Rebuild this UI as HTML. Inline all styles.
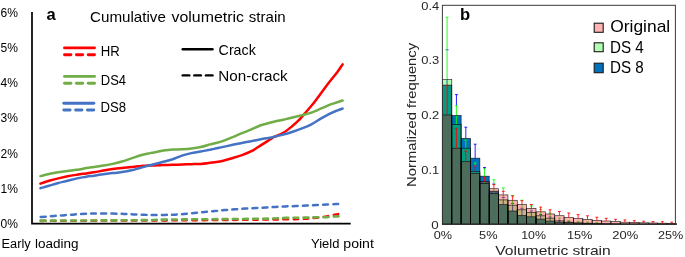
<!DOCTYPE html>
<html><head><meta charset="utf-8"><title>Figure</title>
<style>
html,body{margin:0;padding:0;background:#fff;}
svg{display:block;will-change:transform;}
text{font-family:"Liberation Sans",sans-serif;fill:#000;}
#panelB text{fill:#262626;}
</style></head><body>
<svg width="685" height="257" viewBox="0 0 685 257">
<rect x="0" y="0" width="685" height="257" fill="#fff"/>

<g id="panelA">
<path d="M32.0 11.9 V223.55 H350.7" fill="none" stroke="#000" stroke-width="1.7" stroke-linejoin="miter"/>
<text x="0.6" y="16.7" font-size="12.1" textLength="17.4" lengthAdjust="spacingAndGlyphs">6%</text>
<text x="0.6" y="51.9" font-size="12.1" textLength="17.4" lengthAdjust="spacingAndGlyphs">5%</text>
<text x="0.6" y="87.1" font-size="12.1" textLength="17.4" lengthAdjust="spacingAndGlyphs">4%</text>
<text x="0.6" y="122.3" font-size="12.1" textLength="17.4" lengthAdjust="spacingAndGlyphs">3%</text>
<text x="0.6" y="157.5" font-size="12.1" textLength="17.4" lengthAdjust="spacingAndGlyphs">2%</text>
<text x="0.6" y="192.7" font-size="12.1" textLength="17.4" lengthAdjust="spacingAndGlyphs">1%</text>
<text x="0.6" y="227.9" font-size="12.1" textLength="17.4" lengthAdjust="spacingAndGlyphs">0%</text>
<path d="M39.5 221.0 C50.4 220.9 81.6 220.8 105.0 220.7 C128.4 220.6 155.0 220.6 180.0 220.4 C205.0 220.2 237.3 220.0 255.0 219.8 C272.7 219.6 277.4 219.6 286.0 219.4 C294.6 219.2 301.3 219.1 306.4 218.8 C311.5 218.5 313.1 218.2 316.5 217.8 C319.9 217.4 323.4 216.9 326.7 216.3 C329.9 215.7 333.4 214.9 336.0 214.4 C338.6 213.9 341.5 213.6 342.6 213.4" fill="none" stroke="#FF0000" stroke-width="2.3" stroke-linecap="round" stroke-linejoin="round" stroke-dasharray="4.7 5.4" stroke-dashoffset="-1.4"/>
<path d="M39.5 220.6 C50.4 220.6 86.6 220.5 105.0 220.4 C123.4 220.3 140.0 220.2 150.0 220.1 C160.0 220.0 147.5 219.8 165.0 219.6 C182.5 219.3 234.8 219.1 255.0 218.8 C275.2 218.6 277.4 218.2 286.0 217.9 C294.6 217.7 301.3 217.7 306.4 217.6 C311.5 217.5 313.1 217.4 316.5 217.3 C319.9 217.3 323.4 217.2 326.7 217.1 C329.9 216.9 333.4 216.6 336.0 216.4 C338.6 216.3 341.5 216.1 342.6 216.1" fill="none" stroke="#70AD47" stroke-width="2.6" stroke-linecap="round" stroke-linejoin="round" stroke-dasharray="4.9 5.2" stroke-dashoffset="-1.3"/>
<path d="M39.5 217.1 C41.2 217.0 46.2 216.6 49.6 216.3 C53.0 216.0 56.3 215.8 59.7 215.5 C63.1 215.2 66.4 215.1 69.8 214.8 C73.2 214.6 76.5 214.2 79.9 214.0 C83.3 213.8 86.7 213.7 90.0 213.6 C93.3 213.5 96.2 213.6 100.0 213.6 C103.8 213.6 109.0 213.5 113.0 213.6 C117.0 213.7 120.6 213.8 124.0 213.9 C127.4 214.0 130.2 214.2 133.6 214.4 C137.0 214.6 141.1 214.7 144.5 214.8 C147.9 214.9 150.6 215.1 154.0 215.1 C157.4 215.1 161.6 215.0 165.0 214.9 C168.4 214.8 171.3 214.8 174.5 214.7 C177.7 214.5 180.7 214.3 184.0 214.0 C187.3 213.7 190.9 213.3 194.3 213.0 C197.7 212.7 201.1 212.3 204.5 212.0 C207.9 211.7 211.3 211.4 214.7 211.1 C218.1 210.8 221.6 210.4 225.0 210.1 C228.4 209.8 231.6 209.6 235.0 209.3 C238.4 209.1 242.0 208.8 245.4 208.6 C248.8 208.4 252.2 208.2 255.6 208.0 C259.0 207.8 262.5 207.7 265.9 207.5 C269.3 207.3 272.6 207.1 276.0 206.9 C279.4 206.7 282.7 206.6 286.0 206.4 C289.3 206.2 292.6 206.2 296.0 206.0 C299.4 205.8 303.0 205.7 306.4 205.5 C309.8 205.3 313.1 205.2 316.5 205.0 C319.9 204.8 323.4 204.8 326.7 204.6 C329.9 204.4 333.4 204.2 336.0 204.0 C338.6 203.8 341.5 203.8 342.6 203.7" fill="none" stroke="#4472C4" stroke-width="2.5" stroke-linecap="round" stroke-linejoin="round" stroke-dasharray="4.9 5.2" stroke-dashoffset="-1.3"/>
<path d="M40.4 183.6 C41.8 183.1 46.0 181.7 49.0 180.8 C52.0 179.9 55.2 179.1 58.3 178.4 C61.4 177.7 64.5 177.0 67.6 176.3 C70.7 175.7 73.9 175.2 77.0 174.7 C80.1 174.2 83.5 173.8 86.3 173.4 C89.1 173.0 91.2 172.8 94.0 172.3 C96.8 171.8 100.2 171.1 103.3 170.5 C106.4 169.9 109.6 169.4 112.7 169.0 C115.8 168.6 118.9 168.3 122.0 168.0 C125.1 167.7 128.3 167.3 131.4 167.0 C134.5 166.7 137.6 166.3 140.7 166.1 C143.8 165.8 147.8 165.6 150.0 165.5 C152.2 165.4 151.8 165.5 154.0 165.4 C156.2 165.3 160.2 165.2 163.3 165.1 C166.4 165.0 169.6 164.9 172.7 164.8 C175.8 164.7 178.9 164.6 182.0 164.5 C185.1 164.4 188.3 164.3 191.4 164.2 C194.5 164.1 197.6 164.1 200.7 163.9 C203.8 163.7 207.8 163.1 210.0 162.8 C212.2 162.5 211.8 162.6 214.0 162.3 C216.2 162.0 220.2 161.5 223.3 160.8 C226.4 160.1 229.6 158.9 232.7 158.0 C235.8 157.1 238.9 156.2 242.0 155.1 C245.1 154.0 248.3 152.8 251.4 151.2 C254.5 149.6 257.6 147.3 260.7 145.4 C263.8 143.5 267.8 140.9 270.0 139.5 C272.2 138.1 271.8 138.1 274.0 137.0 C276.2 135.9 280.2 134.8 283.3 132.9 C286.4 131.0 290.2 127.8 292.7 125.8 C295.2 123.8 296.8 122.2 298.3 120.7 C299.9 119.2 299.8 119.2 302.0 116.7 C304.2 114.2 308.6 109.2 311.4 105.8 C314.2 102.4 316.0 99.9 318.8 96.2 C321.6 92.5 324.9 87.8 328.0 83.7 C331.1 79.7 335.0 75.1 337.4 71.9 C339.8 68.7 341.7 65.7 342.6 64.4" fill="none" stroke="#FF0000" stroke-width="2.5" stroke-linecap="round" stroke-linejoin="round"/>
<path d="M40.4 176.1 C41.8 175.8 46.0 174.6 49.0 174.0 C52.0 173.4 55.2 172.9 58.3 172.3 C61.4 171.8 64.5 171.3 67.6 170.9 C70.7 170.5 73.9 170.3 77.0 169.8 C80.1 169.4 83.5 168.6 86.3 168.1 C89.1 167.6 91.2 167.4 94.0 167.0 C96.8 166.6 100.2 166.1 103.3 165.6 C106.4 165.1 109.6 164.6 112.7 163.9 C115.8 163.2 118.9 162.4 122.0 161.5 C125.1 160.6 128.3 159.4 131.4 158.4 C134.5 157.4 137.6 156.2 140.7 155.3 C143.8 154.4 147.8 153.6 150.0 153.1 C152.2 152.6 151.8 152.9 154.0 152.5 C156.2 152.1 160.2 151.1 163.3 150.6 C166.4 150.1 169.6 149.7 172.7 149.5 C175.8 149.3 178.9 149.5 182.0 149.3 C185.1 149.1 188.3 148.9 191.4 148.5 C194.5 148.1 197.6 147.7 200.7 147.0 C203.8 146.3 207.8 145.0 210.0 144.4 C212.2 143.8 211.8 144.1 214.0 143.5 C216.2 142.9 220.2 142.0 223.3 140.9 C226.4 139.8 229.6 138.5 232.7 137.2 C235.8 135.9 238.9 134.5 242.0 133.2 C245.1 131.9 248.3 130.7 251.4 129.4 C254.5 128.1 257.6 126.3 260.7 125.2 C263.8 124.1 267.8 123.4 270.0 122.8 C272.2 122.2 271.8 122.2 274.0 121.7 C276.2 121.2 280.2 120.4 283.3 119.7 C286.4 119.0 289.6 118.3 292.7 117.5 C295.8 116.7 298.9 115.9 302.0 115.1 C305.1 114.3 308.3 113.7 311.4 112.6 C314.5 111.5 317.6 110.0 320.7 108.7 C323.8 107.4 327.8 105.6 330.0 104.7 C332.2 103.8 331.9 104.1 334.0 103.4 C336.1 102.7 341.2 101.0 342.6 100.5" fill="none" stroke="#70AD47" stroke-width="2.5" stroke-linecap="round" stroke-linejoin="round"/>
<path d="M40.4 188.2 C41.8 187.8 46.0 186.7 49.0 185.8 C52.0 184.9 55.2 183.8 58.3 183.0 C61.4 182.2 64.5 181.6 67.6 180.8 C70.7 180.0 73.9 179.1 77.0 178.4 C80.1 177.7 83.5 177.2 86.3 176.7 C89.1 176.2 91.2 176.1 94.0 175.7 C96.8 175.2 100.2 174.6 103.3 174.2 C106.4 173.8 109.6 173.4 112.7 173.1 C115.8 172.8 118.9 172.6 122.0 172.1 C125.1 171.6 128.3 171.0 131.4 170.3 C134.5 169.6 137.6 168.5 140.7 167.7 C143.8 166.9 147.8 165.9 150.0 165.3 C152.2 164.7 151.8 164.9 154.0 164.3 C156.2 163.7 160.2 162.5 163.3 161.7 C166.4 160.9 169.6 160.3 172.7 159.3 C175.8 158.3 178.9 156.6 182.0 155.6 C185.1 154.6 188.3 153.8 191.4 153.1 C194.5 152.4 197.6 152.2 200.7 151.6 C203.8 151.0 207.8 150.1 210.0 149.7 C212.2 149.2 211.8 149.4 214.0 148.9 C216.2 148.4 220.2 147.6 223.3 146.9 C226.4 146.2 229.6 145.5 232.7 144.8 C235.8 144.1 238.9 143.5 242.0 142.9 C245.1 142.3 248.3 141.8 251.4 141.2 C254.5 140.6 257.6 139.9 260.7 139.3 C263.8 138.7 267.8 138.2 270.0 137.8 C272.2 137.4 271.8 137.4 274.0 136.8 C276.2 136.2 280.2 135.3 283.3 134.5 C286.4 133.7 289.6 132.7 292.7 131.7 C295.8 130.7 298.9 129.6 302.0 128.4 C305.1 127.2 308.3 125.9 311.4 124.3 C314.5 122.7 317.6 120.5 320.7 118.7 C323.8 116.9 327.8 114.9 330.0 113.7 C332.2 112.5 331.9 112.7 334.0 111.8 C336.1 110.9 341.2 109.1 342.6 108.6" fill="none" stroke="#4472C4" stroke-width="2.5" stroke-linecap="round" stroke-linejoin="round"/>
<text x="46.4" y="19.7" font-size="16.5" font-weight="bold">a</text>
<text x="90.0" y="21.7" font-size="14.2" textLength="75.9" lengthAdjust="spacingAndGlyphs">Cumulative</text>
<text x="171.5" y="21.7" font-size="14.2" textLength="72.4" lengthAdjust="spacingAndGlyphs">volumetric</text>
<text x="248.8" y="21.7" font-size="14.2" textLength="36.8" lengthAdjust="spacingAndGlyphs">strain</text>
<line x1="64.5" y1="47.9" x2="94.5" y2="47.9" stroke="#FF0000" stroke-width="2.9" stroke-linecap="round"/>
<line x1="64.5" y1="54.8" x2="70.9" y2="54.8" stroke="#FF0000" stroke-width="2.9" stroke-linecap="round"/><line x1="76.4" y1="54.8" x2="82.7" y2="54.8" stroke="#FF0000" stroke-width="2.9" stroke-linecap="round"/><line x1="88.2" y1="54.8" x2="94.5" y2="54.8" stroke="#FF0000" stroke-width="2.9" stroke-linecap="round"/>
<line x1="64.5" y1="76.4" x2="94.5" y2="76.4" stroke="#70AD47" stroke-width="2.9" stroke-linecap="round"/>
<line x1="64.5" y1="83.2" x2="70.9" y2="83.2" stroke="#70AD47" stroke-width="2.9" stroke-linecap="round"/><line x1="76.4" y1="83.2" x2="82.7" y2="83.2" stroke="#70AD47" stroke-width="2.9" stroke-linecap="round"/><line x1="88.2" y1="83.2" x2="94.5" y2="83.2" stroke="#70AD47" stroke-width="2.9" stroke-linecap="round"/>
<line x1="63.8" y1="103.3" x2="93.8" y2="103.3" stroke="#4472C4" stroke-width="2.9" stroke-linecap="round"/>
<line x1="63.8" y1="110.0" x2="70.1" y2="110.0" stroke="#4472C4" stroke-width="2.9" stroke-linecap="round"/><line x1="75.6" y1="110.0" x2="81.9" y2="110.0" stroke="#4472C4" stroke-width="2.9" stroke-linecap="round"/><line x1="87.4" y1="110.0" x2="93.8" y2="110.0" stroke="#4472C4" stroke-width="2.9" stroke-linecap="round"/>
<text x="100.8" y="56.3" font-size="14.4" textLength="19.0" lengthAdjust="spacingAndGlyphs">HR</text>
<text x="100.8" y="84.9" font-size="14.4" textLength="25.3" lengthAdjust="spacingAndGlyphs">DS4</text>
<text x="100.6" y="111.8" font-size="14.4" textLength="25.6" lengthAdjust="spacingAndGlyphs">DS8</text>
<line x1="182.7" y1="49.3" x2="212.5" y2="49.3" stroke="#000" stroke-width="2.4" stroke-linecap="round"/>
<line x1="182.7" y1="75.4" x2="189.3" y2="75.4" stroke="#000" stroke-width="2.4" stroke-linecap="round"/><line x1="194.3" y1="75.4" x2="200.9" y2="75.4" stroke="#000" stroke-width="2.4" stroke-linecap="round"/><line x1="205.9" y1="75.4" x2="212.5" y2="75.4" stroke="#000" stroke-width="2.4" stroke-linecap="round"/>
<text x="218.6" y="55.0" font-size="14.4" textLength="37.2" lengthAdjust="spacingAndGlyphs">Crack</text>
<text x="218.3" y="80.9" font-size="14.4" textLength="69.4" lengthAdjust="spacingAndGlyphs">Non-crack</text>
<text x="1.5" y="247.9" font-size="12.3" textLength="29.2" lengthAdjust="spacingAndGlyphs">Early</text>
<text x="35.0" y="247.9" font-size="12.3" textLength="43.6" lengthAdjust="spacingAndGlyphs">loading</text>
<text x="311.0" y="247.5" font-size="12.3" textLength="28.4" lengthAdjust="spacingAndGlyphs">Yield</text>
<text x="343.3" y="247.5" font-size="12.3" textLength="30.6" lengthAdjust="spacingAndGlyphs">point</text>
</g>
<g id="panelB">
<rect x="442.4" y="5.4" width="233.0" height="218.8" fill="#fff" stroke="none"/>
<g fill="#0072BD" fill-opacity="1" stroke="none"><rect x="442.40" y="85.10" width="9.36" height="139.10"/><rect x="451.76" y="115.50" width="9.36" height="108.70"/><rect x="461.12" y="138.40" width="9.36" height="85.80"/><rect x="470.48" y="158.20" width="9.36" height="66.00"/><rect x="479.84" y="176.20" width="9.36" height="48.00"/><rect x="489.20" y="191.20" width="9.36" height="33.00"/><rect x="498.56" y="204.60" width="9.36" height="19.60"/><rect x="507.92" y="211.00" width="9.36" height="13.20"/><rect x="517.28" y="215.40" width="9.36" height="8.80"/><rect x="526.64" y="216.80" width="9.36" height="7.40"/><rect x="536.00" y="219.10" width="9.36" height="5.10"/><rect x="545.36" y="221.00" width="9.36" height="3.20"/><rect x="554.72" y="222.20" width="9.36" height="2.00"/><rect x="564.08" y="222.80" width="9.36" height="1.40"/><rect x="573.44" y="223.30" width="9.36" height="0.90"/><rect x="582.80" y="223.60" width="9.36" height="0.60"/><rect x="592.16" y="223.80" width="9.36" height="0.40"/><rect x="601.52" y="223.90" width="9.36" height="0.30"/><rect x="610.88" y="224.00" width="9.36" height="0.20"/><rect x="620.24" y="224.10" width="9.36" height="0.10"/><rect x="629.60" y="224.10" width="9.36" height="0.10"/><rect x="638.96" y="224.20" width="9.36" height="0.05"/><rect x="648.32" y="224.20" width="9.36" height="0.05"/><rect x="657.68" y="224.20" width="9.36" height="0.05"/><rect x="667.04" y="224.20" width="9.36" height="0.05"/></g>
<g stroke="#0000FF" stroke-width="0.85" fill="none"><path d="M447.08 79.60 V85.10"/><path d="M445.63 49.80 H448.53"/><path d="M456.44 94.60 V105.70"/><path d="M454.99 94.60 H457.89"/><path d="M465.80 127.20 V138.40"/><path d="M464.35 127.20 H467.25"/><path d="M475.16 144.20 V158.20"/><path d="M473.71 144.20 H476.61"/><path d="M484.52 167.50 V168.90"/><path d="M483.07 167.50 H485.97"/><path d="M492.43 184.00 H495.33"/><path d="M503.24 199.90 V204.60"/><path d="M501.79 197.50 H504.69"/><path d="M512.60 205.20 V211.00"/><path d="M511.15 203.40 H514.05"/><path d="M521.96 209.80 V215.40"/><path d="M520.51 208.30 H523.41"/><path d="M531.32 212.40 V216.80"/><path d="M529.87 211.00 H532.77"/><path d="M540.68 215.80 V219.10"/><path d="M539.23 214.50 H542.13"/><path d="M550.04 218.20 V221.00"/><path d="M548.59 217.00 H551.49"/><path d="M559.40 220.90 V222.20"/><path d="M557.95 220.80 H560.85"/><path d="M568.76 222.20 V222.80"/><path d="M567.31 221.80 H570.21"/></g>
<g fill="#00FF00" fill-opacity="0.3" stroke="none"><rect x="442.40" y="79.60" width="9.36" height="144.60"/><rect x="451.76" y="124.40" width="9.36" height="99.80"/><rect x="461.12" y="148.20" width="9.36" height="76.00"/><rect x="470.48" y="171.50" width="9.36" height="52.70"/><rect x="479.84" y="183.40" width="9.36" height="40.80"/><rect x="489.20" y="193.70" width="9.36" height="30.50"/><rect x="498.56" y="199.90" width="9.36" height="24.30"/><rect x="507.92" y="205.20" width="9.36" height="19.00"/><rect x="517.28" y="209.80" width="9.36" height="14.40"/><rect x="526.64" y="212.40" width="9.36" height="11.80"/><rect x="536.00" y="215.80" width="9.36" height="8.40"/><rect x="545.36" y="218.20" width="9.36" height="6.00"/><rect x="554.72" y="220.90" width="9.36" height="3.30"/><rect x="564.08" y="222.20" width="9.36" height="2.00"/><rect x="573.44" y="222.80" width="9.36" height="1.40"/><rect x="582.80" y="223.20" width="9.36" height="1.00"/><rect x="592.16" y="223.50" width="9.36" height="0.70"/><rect x="601.52" y="223.70" width="9.36" height="0.50"/><rect x="610.88" y="223.80" width="9.36" height="0.40"/><rect x="620.24" y="223.90" width="9.36" height="0.30"/><rect x="629.60" y="224.00" width="9.36" height="0.20"/><rect x="638.96" y="224.00" width="9.36" height="0.20"/><rect x="648.32" y="224.10" width="9.36" height="0.10"/><rect x="657.68" y="224.10" width="9.36" height="0.10"/><rect x="667.04" y="224.10" width="9.36" height="0.10"/></g>
<g stroke="#00FF00" stroke-width="0.85" fill="none"><path d="M447.08 17.20 V79.60"/><path d="M445.63 17.20 H448.53"/><path d="M456.44 105.70 V124.40"/><path d="M454.99 105.70 H457.89"/><path d="M465.80 140.00 V148.20"/><path d="M464.35 140.00 H467.25"/><path d="M475.16 162.90 V166.00"/><path d="M473.71 162.90 H476.61"/><path d="M484.52 168.90 V177.00"/><path d="M484.52 181.30 V183.40"/><path d="M483.07 168.90 H485.97"/><path d="M493.88 179.70 V184.60"/><path d="M493.88 188.70 V193.70"/><path d="M492.43 179.70 H495.33"/><path d="M503.24 187.90 V191.30"/><path d="M503.24 194.90 V199.90"/><path d="M501.79 187.90 H504.69"/><path d="M512.60 195.50 V196.00"/><path d="M512.60 200.30 V205.20"/><path d="M511.15 195.50 H514.05"/><path d="M521.96 200.20 V200.70"/><path d="M521.96 204.50 V209.80"/><path d="M520.51 200.20 H523.41"/><path d="M531.32 208.40 V212.40"/><path d="M529.87 206.00 H532.77"/><path d="M540.68 211.80 V215.80"/><path d="M539.23 209.50 H542.13"/><path d="M550.04 214.00 V218.20"/><path d="M548.59 213.00 H551.49"/><path d="M559.40 218.10 V220.90"/><path d="M557.95 218.10 H560.85"/><path d="M568.76 220.60 V222.20"/><path d="M567.31 220.60 H570.21"/><path d="M578.12 221.40 V222.80"/><path d="M576.67 221.40 H579.57"/><path d="M587.48 222.00 V223.20"/><path d="M586.03 222.00 H588.93"/><path d="M596.84 222.40 V223.50"/><path d="M595.39 222.40 H598.29"/></g>
<g fill="#FF0000" fill-opacity="0.3" stroke="none"><rect x="442.40" y="115.00" width="9.36" height="109.20"/><rect x="451.76" y="148.20" width="9.36" height="76.00"/><rect x="461.12" y="161.70" width="9.36" height="62.50"/><rect x="470.48" y="173.40" width="9.36" height="50.80"/><rect x="479.84" y="181.30" width="9.36" height="42.90"/><rect x="489.20" y="188.70" width="9.36" height="35.50"/><rect x="498.56" y="194.90" width="9.36" height="29.30"/><rect x="507.92" y="200.30" width="9.36" height="23.90"/><rect x="517.28" y="204.50" width="9.36" height="19.70"/><rect x="526.64" y="208.40" width="9.36" height="15.80"/><rect x="536.00" y="211.80" width="9.36" height="12.40"/><rect x="545.36" y="214.00" width="9.36" height="10.20"/><rect x="554.72" y="215.70" width="9.36" height="8.50"/><rect x="564.08" y="217.60" width="9.36" height="6.60"/><rect x="573.44" y="218.50" width="9.36" height="5.70"/><rect x="582.80" y="219.50" width="9.36" height="4.70"/><rect x="592.16" y="220.40" width="9.36" height="3.80"/><rect x="601.52" y="221.00" width="9.36" height="3.20"/><rect x="610.88" y="221.40" width="9.36" height="2.80"/><rect x="620.24" y="222.20" width="9.36" height="2.00"/><rect x="629.60" y="222.40" width="9.36" height="1.80"/><rect x="638.96" y="222.80" width="9.36" height="1.40"/><rect x="648.32" y="223.00" width="9.36" height="1.20"/><rect x="657.68" y="223.20" width="9.36" height="1.00"/><rect x="667.04" y="223.50" width="9.36" height="0.70"/></g>
<g fill="none" stroke="#000" stroke-opacity="0.8" stroke-width="0.7"><rect x="442.40" y="85.10" width="9.36" height="139.10"/><rect x="451.76" y="115.50" width="9.36" height="108.70"/><rect x="461.12" y="138.40" width="9.36" height="85.80"/><rect x="470.48" y="158.20" width="9.36" height="66.00"/><rect x="479.84" y="176.20" width="9.36" height="48.00"/><rect x="489.20" y="191.20" width="9.36" height="33.00"/><rect x="498.56" y="204.60" width="9.36" height="19.60"/><rect x="507.92" y="211.00" width="9.36" height="13.20"/><rect x="517.28" y="215.40" width="9.36" height="8.80"/><rect x="526.64" y="216.80" width="9.36" height="7.40"/><rect x="536.00" y="219.10" width="9.36" height="5.10"/><rect x="545.36" y="221.00" width="9.36" height="3.20"/><rect x="554.72" y="222.20" width="9.36" height="2.00"/><rect x="564.08" y="222.80" width="9.36" height="1.40"/><rect x="573.44" y="223.30" width="9.36" height="0.90"/><rect x="582.80" y="223.60" width="9.36" height="0.60"/><rect x="592.16" y="223.80" width="9.36" height="0.40"/><rect x="601.52" y="223.90" width="9.36" height="0.30"/><rect x="610.88" y="224.00" width="9.36" height="0.20"/><rect x="620.24" y="224.10" width="9.36" height="0.10"/><rect x="629.60" y="224.10" width="9.36" height="0.10"/><rect x="638.96" y="224.20" width="9.36" height="0.05"/><rect x="648.32" y="224.20" width="9.36" height="0.05"/><rect x="657.68" y="224.20" width="9.36" height="0.05"/><rect x="667.04" y="224.20" width="9.36" height="0.05"/></g>
<g fill="none" stroke="#000" stroke-opacity="0.8" stroke-width="0.7"><rect x="442.40" y="79.60" width="9.36" height="144.60"/><rect x="451.76" y="124.40" width="9.36" height="99.80"/><rect x="461.12" y="148.20" width="9.36" height="76.00"/><rect x="470.48" y="171.50" width="9.36" height="52.70"/><rect x="479.84" y="183.40" width="9.36" height="40.80"/><rect x="489.20" y="193.70" width="9.36" height="30.50"/><rect x="498.56" y="199.90" width="9.36" height="24.30"/><rect x="507.92" y="205.20" width="9.36" height="19.00"/><rect x="517.28" y="209.80" width="9.36" height="14.40"/><rect x="526.64" y="212.40" width="9.36" height="11.80"/><rect x="536.00" y="215.80" width="9.36" height="8.40"/><rect x="545.36" y="218.20" width="9.36" height="6.00"/><rect x="554.72" y="220.90" width="9.36" height="3.30"/><rect x="564.08" y="222.20" width="9.36" height="2.00"/><rect x="573.44" y="222.80" width="9.36" height="1.40"/><rect x="582.80" y="223.20" width="9.36" height="1.00"/><rect x="592.16" y="223.50" width="9.36" height="0.70"/><rect x="601.52" y="223.70" width="9.36" height="0.50"/><rect x="610.88" y="223.80" width="9.36" height="0.40"/><rect x="620.24" y="223.90" width="9.36" height="0.30"/><rect x="629.60" y="224.00" width="9.36" height="0.20"/><rect x="638.96" y="224.00" width="9.36" height="0.20"/><rect x="648.32" y="224.10" width="9.36" height="0.10"/><rect x="657.68" y="224.10" width="9.36" height="0.10"/><rect x="667.04" y="224.10" width="9.36" height="0.10"/></g>
<g fill="none" stroke="#000" stroke-opacity="0.8" stroke-width="0.7"><rect x="442.40" y="115.00" width="9.36" height="109.20"/><rect x="451.76" y="148.20" width="9.36" height="76.00"/><rect x="461.12" y="161.70" width="9.36" height="62.50"/><rect x="470.48" y="173.40" width="9.36" height="50.80"/><rect x="479.84" y="181.30" width="9.36" height="42.90"/><rect x="489.20" y="188.70" width="9.36" height="35.50"/><rect x="498.56" y="194.90" width="9.36" height="29.30"/><rect x="507.92" y="200.30" width="9.36" height="23.90"/><rect x="517.28" y="204.50" width="9.36" height="19.70"/><rect x="526.64" y="208.40" width="9.36" height="15.80"/><rect x="536.00" y="211.80" width="9.36" height="12.40"/><rect x="545.36" y="214.00" width="9.36" height="10.20"/><rect x="554.72" y="215.70" width="9.36" height="8.50"/><rect x="564.08" y="217.60" width="9.36" height="6.60"/><rect x="573.44" y="218.50" width="9.36" height="5.70"/><rect x="582.80" y="219.50" width="9.36" height="4.70"/><rect x="592.16" y="220.40" width="9.36" height="3.80"/><rect x="601.52" y="221.00" width="9.36" height="3.20"/><rect x="610.88" y="221.40" width="9.36" height="2.80"/><rect x="620.24" y="222.20" width="9.36" height="2.00"/><rect x="629.60" y="222.40" width="9.36" height="1.80"/><rect x="638.96" y="222.80" width="9.36" height="1.40"/><rect x="648.32" y="223.00" width="9.36" height="1.20"/><rect x="657.68" y="223.20" width="9.36" height="1.00"/><rect x="667.04" y="223.50" width="9.36" height="0.70"/></g>
<g stroke="#FF0000" stroke-width="0.85" fill="none"><path d="M447.08 85.60 V115.00"/><path d="M445.63 85.60 H448.53"/><path d="M456.44 128.30 V148.20"/><path d="M454.99 128.30 H457.89"/><path d="M465.80 151.00 V161.70"/><path d="M464.35 151.00 H467.25"/><path d="M475.16 166.00 V173.40"/><path d="M473.71 166.00 H476.61"/><path d="M484.52 177.00 V181.30"/><path d="M483.07 177.00 H485.97"/><path d="M493.88 184.60 V188.70"/><path d="M492.43 184.60 H495.33"/><path d="M503.24 191.30 V194.90"/><path d="M501.79 191.30 H504.69"/><path d="M512.60 196.00 V200.30"/><path d="M511.15 196.00 H514.05"/><path d="M521.96 200.70 V204.50"/><path d="M520.51 200.70 H523.41"/><path d="M531.32 204.50 V208.40"/><path d="M529.87 204.50 H532.77"/><path d="M540.68 207.10 V211.80"/><path d="M539.23 207.10 H542.13"/><path d="M550.04 209.80 V214.00"/><path d="M548.59 209.80 H551.49"/><path d="M559.40 211.50 V215.70"/><path d="M557.95 211.50 H560.85"/><path d="M568.76 213.00 V217.60"/><path d="M567.31 213.00 H570.21"/><path d="M578.12 214.60 V218.50"/><path d="M576.67 214.60 H579.57"/><path d="M587.48 215.80 V219.50"/><path d="M586.03 215.80 H588.93"/><path d="M596.84 217.20 V220.40"/><path d="M595.39 217.20 H598.29"/><path d="M606.20 218.30 V221.00"/><path d="M604.75 218.30 H607.65"/><path d="M615.56 219.30 V221.40"/><path d="M614.11 219.30 H617.01"/><path d="M624.92 219.90 V222.20"/><path d="M623.47 219.90 H626.37"/><path d="M634.28 220.70 V222.40"/><path d="M632.83 220.70 H635.73"/><path d="M643.64 221.20 V222.80"/><path d="M642.19 221.20 H645.09"/><path d="M653.00 221.60 V223.00"/><path d="M651.55 221.60 H654.45"/><path d="M662.36 221.70 V223.20"/><path d="M660.91 221.70 H663.81"/><path d="M671.72 222.20 V223.50"/><path d="M670.27 222.20 H673.17"/></g>
<rect x="442.4" y="5.3" width="233.0" height="218.9" fill="none" stroke="#3a3a3a" stroke-width="1"/>
<text x="439.2" y="10.1" font-size="11.8" text-anchor="end" textLength="18.0" lengthAdjust="spacingAndGlyphs">0.4</text>
<text x="439.2" y="64.0" font-size="11.8" text-anchor="end" textLength="18.0" lengthAdjust="spacingAndGlyphs">0.3</text>
<text x="439.2" y="118.9" font-size="11.8" text-anchor="end" textLength="18.0" lengthAdjust="spacingAndGlyphs">0.2</text>
<text x="439.2" y="173.9" font-size="11.8" text-anchor="end" textLength="18.0" lengthAdjust="spacingAndGlyphs">0.1</text>
<text x="438.7" y="228.8" font-size="11.8" text-anchor="end" textLength="7.4" lengthAdjust="spacingAndGlyphs">0</text>
<text x="442.8" y="239.1" font-size="11.8" text-anchor="middle" textLength="18.3" lengthAdjust="spacingAndGlyphs">0%</text>
<text x="488.3" y="239.1" font-size="11.8" text-anchor="middle" textLength="18.5" lengthAdjust="spacingAndGlyphs">5%</text>
<text x="533.6" y="239.1" font-size="11.8" text-anchor="middle" textLength="24.7" lengthAdjust="spacingAndGlyphs">10%</text>
<text x="579.7" y="239.1" font-size="11.8" text-anchor="middle" textLength="25.5" lengthAdjust="spacingAndGlyphs">15%</text>
<text x="625.2" y="239.1" font-size="11.8" text-anchor="middle" textLength="25.9" lengthAdjust="spacingAndGlyphs">20%</text>
<text x="670.7" y="239.1" font-size="11.8" text-anchor="middle" textLength="25.3" lengthAdjust="spacingAndGlyphs">25%</text>
<text x="495.2" y="255.0" font-size="13" textLength="115.6" lengthAdjust="spacingAndGlyphs">Volumetric strain</text>
<text transform="translate(415.9 187) rotate(-90)" font-size="13" textLength="144.2" lengthAdjust="spacingAndGlyphs">Normalized frequency</text>
<text x="459.9" y="19.7" font-size="16.6" font-weight="bold" style="fill:#000">b</text>
<rect x="594.2" y="23.2" width="9.0" height="9.1" fill="#FF0000" fill-opacity="0.3" stroke="#1a1a1a" stroke-width="1.1"/>
<rect x="594.2" y="42.8" width="9.0" height="8.9" fill="#00FF00" fill-opacity="0.3" stroke="#1a1a1a" stroke-width="1.1"/>
<rect x="594.2" y="63.2" width="9.0" height="9.5" fill="#0072BD" fill-opacity="1" stroke="#1a1a1a" stroke-width="1.1"/>
<text x="610.2" y="32.3" font-size="16.2" textLength="60.0" lengthAdjust="spacingAndGlyphs" style="fill:#000">Original</text>
<text x="610.0" y="53.0" font-size="16.2" textLength="33.8" lengthAdjust="spacingAndGlyphs" style="fill:#000">DS 4</text>
<text x="610.0" y="73.2" font-size="16.2" textLength="33.8" lengthAdjust="spacingAndGlyphs" style="fill:#000">DS 8</text>
</g>
</svg></body></html>
